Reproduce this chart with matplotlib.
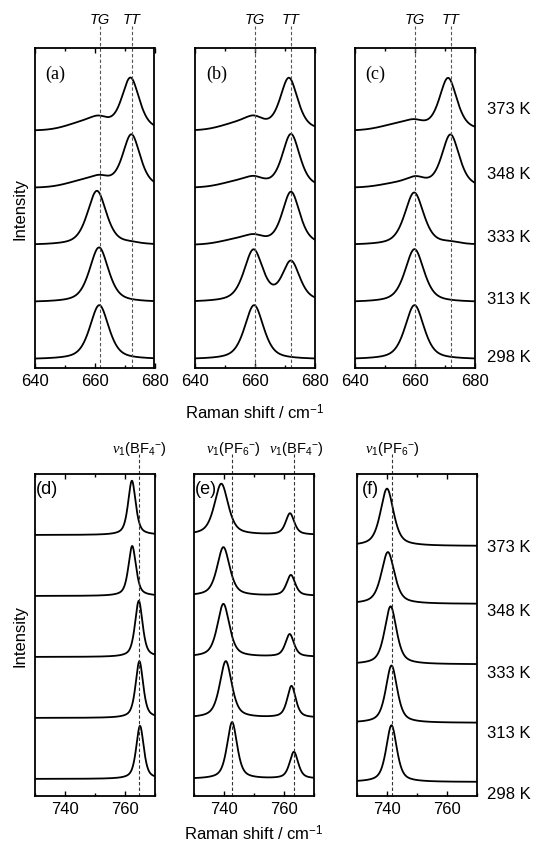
import numpy as np
import matplotlib
matplotlib.use('Agg')
import matplotlib.pyplot as plt
import matplotlib.transforms as mtransforms

plt.rcParams['font.family'] = ['Liberation Sans', 'DejaVu Sans']
plt.rcParams['font.size'] = 12
plt.rcParams['mathtext.fontset'] = 'custom'
plt.rcParams['mathtext.rm'] = 'Liberation Sans'
plt.rcParams['mathtext.it'] = 'Liberation Serif:italic'
plt.rcParams['axes.linewidth'] = 1.3
plt.rcParams['xtick.direction'] = 'in'
plt.rcParams['xtick.top'] = True
plt.rcParams['xtick.major.size'] = 3.5
plt.rcParams['xtick.minor.size'] = 2
plt.rcParams['xtick.major.width'] = 1.0
plt.rcParams['xtick.minor.width'] = 1.0

# temperatures, bottom -> top
temps = ['298 K', '313 K', '333 K', '348 K', '373 K']

# top row: TG / TT bands (centre cm-1, height) + broad underlying band
a_tg_pos = [661.6, 661.5, 660.8, 661.8, 661.5]
a_tg_h = [0.95, 0.96, 0.95, 0.10, 0.12]
a_tt_pos = [672.0, 672.0, 672.0, 672.3, 672.0]
a_tt_h = [0.0, 0.0, 0.02, 0.93, 0.92]
a_bg_h = [0.0, 0.0, 0.0, 0.11, 0.13]

b_tg_pos = [659.7, 659.5, 659.7, 659.7, 659.7]
b_tg_h = [0.95, 0.90, 0.09, 0.10, 0.14]
b_tt_pos = [672.0, 672.0, 672.0, 672.0, 671.3]
b_tt_h = [0.0, 0.69, 0.93, 0.94, 0.92]
b_bg_h = [0.0, 0.0, 0.09, 0.10, 0.12]

c_tg_pos = [660.0, 660.0, 659.9, 660.5, 660.0]
c_tg_h = [0.95, 0.93, 0.92, 0.12, 0.09]
c_tt_pos = [672.0, 672.0, 672.0, 672.0, 671.2]
c_tt_h = [0.0, 0.0, 0.03, 0.93, 0.92]
c_bg_h = [0.0, 0.0, 0.0, 0.07, 0.10]

# bottom row: v1(PF6-) / v1(BF4-) bands
d_bf4_pos = [765.0, 764.8, 764.6, 762.4, 762.3]
d_bf4_h = [0.87, 0.93, 0.92, 0.82, 0.89]

e_pf6_pos = [742.7, 740.6, 739.8, 739.8, 739.1]
e_pf6_h = [0.93, 0.93, 0.87, 0.80, 0.84]
e_pf6_w = [4.0, 4.8, 4.8, 5.0, 5.5]
e_bf4_pos = [763.3, 762.5, 761.9, 762.3, 762.0]
e_bf4_h = [0.44, 0.52, 0.37, 0.34, 0.35]

f_pf6_pos = [741.5, 741.5, 741.2, 740.3, 740.0]
f_pf6_h = [0.93, 0.94, 0.95, 0.85, 0.94]
f_pf6_w = [4.2, 4.5, 4.7, 5.2, 5.2]

offsets = [0, 1, 2, 3, 4]
f_offsets = [-0.05, 0.92, 1.88, 2.87, 3.82]

top_lines = {'a': [661.8, 672.5], 'b': [660.0, 672.0], 'c': [660.0, 672.0]}
d_lines = [764.7]
e_lines = [742.8, 763.4]
f_lines = [741.8]


def band(x, c, h, w, eta=0.55):
    lor = 1 / (1 + ((x - c) / (w / 2)) ** 2)
    gau = np.exp(-4 * np.log(2) * ((x - c) / w) ** 2)
    return h * (eta * lor + (1 - eta) * gau)


def broad(x, c, h, w):
    return h * np.exp(-4 * np.log(2) * ((x - c) / w) ** 2)


W, H = 542, 845
fig = plt.figure(figsize=(W / 100, H / 100), dpi=100)

def px_axes(x0, y_top, y_bot, w=120):
    return fig.add_axes([x0 / W, 1 - y_bot / H, w / W, (y_bot - y_top) / H])


def dashed(ax, xs, top, col):
    tr = mtransforms.blended_transform_factory(ax.transData, ax.transAxes)
    for xv in xs:
        ax.plot([xv, xv], [0, top], transform=tr, clip_on=False,
                color=col, lw=0.8, ls=(0, (3, 2)))


# ---- top row
xt = np.linspace(640, 680, 801)
top_data = [('a', a_tg_pos, a_tg_h, a_tt_pos, a_tt_h, a_bg_h, 34.5, 657.0),
            ('b', b_tg_pos, b_tg_h, b_tt_pos, b_tt_h, b_bg_h, 195, 655.0),
            ('c', c_tg_pos, c_tg_h, c_tt_pos, c_tt_h, c_bg_h, 354.5, 655.0)]
for name, tgp, tgh, ttp, tth, bgh, x0, bgc in top_data:
    ax = px_axes(x0, 49, 369)
    for i in range(5):
        y = (band(xt, tgp[i], tgh[i], 7.5) + band(xt, ttp[i], tth[i], 7.0)
             + broad(xt, bgc, bgh[i], 14))
        ax.plot(xt, y + offsets[i], color='black', lw=1.3)
    ax.set_xlim(640, 680)
    ax.set_ylim(-0.15, 5.45)
    ax.set_xticks([640, 660, 680])
    ax.set_xticks([650, 670], minor=True)
    ax.set_yticks([])
    dashed(ax, top_lines[name], 1.069, '#555555')
    tr = mtransforms.blended_transform_factory(ax.transData, ax.transAxes)
    for xv, lab in zip(top_lines[name], ['TG', 'TT']):
        ax.text(xv, 1.09, lab, transform=tr, ha='center', va='center',
                style='italic', fontsize=10.5)
    ax.text(0.09, 0.92, '(' + name + ')', transform=ax.transAxes,
            family='Liberation Serif', fontsize=13, va='center')

# ---- bottom row
xb = np.linspace(730, 770, 1601)
bot = []
ax = px_axes(35, 475, 797)
for i in range(5):
    ax.plot(xb, band(xb, d_bf4_pos[i], d_bf4_h[i], 3.0, 0.6) + offsets[i],
            color='black', lw=1.3)
bot.append((ax, 'd', d_lines, [r'$\nu_1$(BF$_4$$^{-}$)'], [0], 0.01))

ax = px_axes(194, 475, 797)
for i in range(5):
    y = (band(xb, e_pf6_pos[i], e_pf6_h[i], e_pf6_w[i], 0.6)
         + band(xb, e_bf4_pos[i], e_bf4_h[i], 3.4, 0.6))
    ax.plot(xb, y + offsets[i], color='black', lw=1.3)
bot.append((ax, 'e', e_lines, [r'$\nu_1$(PF$_6$$^{-}$)', r'$\nu_1$(BF$_4$$^{-}$)'], [0.3, 0.6], 0.01))

ax = px_axes(357, 475, 797)
for i in range(5):
    ax.plot(xb, band(xb, f_pf6_pos[i], f_pf6_h[i], f_pf6_w[i], 0.6) + f_offsets[i],
            color='black', lw=1.3)
bot.append((ax, 'f', f_lines, [r'$\nu_1$(PF$_6$$^{-}$)'], [0], 0.04))

for ax, name, lines, labs, shifts, lx in bot:
    ax.set_xlim(730, 770)
    ax.set_ylim(-0.28, 5.0)
    ax.set_xticks([740, 760])
    ax.set_xticks([730, 750, 770], minor=True)
    ax.set_yticks([])
    dashed(ax, lines, 1.062, '#333333')
    tr = mtransforms.blended_transform_factory(ax.transData, ax.transAxes)
    for xv, lab, s in zip(lines, labs, shifts):
        ax.text(xv + s, 1.08, lab, transform=tr, ha='center', va='center',
                fontsize=10.5)
    ax.text(lx, 0.955, '(' + name + ')', transform=ax.transAxes,
            fontsize=13, va='center')

# temperature labels and shared axis labels
top_ly = [358, 300, 237, 175, 110]
bot_ly = [795, 734, 674, 612, 547]
for t, yt, yb in zip(temps, top_ly, bot_ly):
    fig.text(487 / W, 1 - yt / H, t, va='center', ha='left')
    fig.text(487 / W, 1 - yb / H, t, va='center', ha='left')

fig.text(20 / W, 1 - 209 / H, 'Intensity', rotation=90, va='center', ha='center')
fig.text(20 / W, 1 - 636 / H, 'Intensity', rotation=90, va='center', ha='center')
fig.text(255 / W, 1 - 413 / H, r'Raman shift / cm$^{-1}$', ha='center', va='center')
fig.text(254 / W, 1 - 834 / H, r'Raman shift / cm$^{-1}$', ha='center', va='center')

fig.savefig('out.png', dpi=100)
